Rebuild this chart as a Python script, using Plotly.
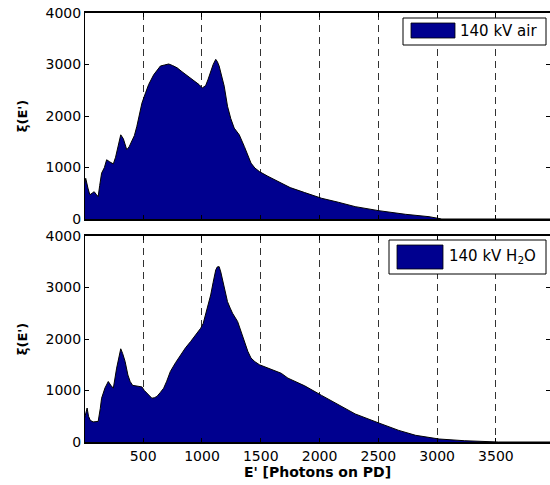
import plotly.graph_objects as go

# ---------------- data ----------------
E_air = [0, 11, 30, 46, 65, 83, 100, 117, 130, 146, 170, 189, 215, 246, 265, 289, 309, 331,
         360, 380, 403, 425, 446, 489, 520, 546, 589, 620, 646, 680, 717, 750, 789, 830, 874,
         910, 946, 975, 1003, 1031, 1050, 1074, 1095, 1117, 1130, 1146, 1170, 1189, 1217,
         1245, 1274, 1317, 1360, 1417, 1450, 1489, 1560, 1620, 1674, 1750, 1874, 2017, 2160,
         2303, 2503, 2731, 2931, 3017, 3040, 3960]
xi_air = [660, 790, 600, 470, 500, 530, 480, 435, 650, 890, 1000, 1150, 1110, 1070, 1200, 1410,
          1635, 1560, 1345, 1400, 1500, 1620, 1800, 2250, 2450, 2610, 2800, 2900, 2970, 2990,
          3010, 2980, 2935, 2860, 2785, 2730, 2675, 2610, 2545, 2590, 2700, 2870, 3000, 3100,
          3060, 2970, 2780, 2580, 2190, 1950, 1765, 1635, 1410, 1085, 990, 920, 830, 760, 700,
          610, 513, 403, 325, 240, 162, 91, 45, 13, 0, 0]

E_h2o = [0, 12, 23, 35, 50, 74, 100, 117, 135, 146, 175, 203, 225, 246, 274, 295, 309, 325,
         346, 370, 389, 410, 431, 470, 489, 510, 531, 555, 574, 595, 617, 645, 674, 700, 731,
         775, 817, 860, 903, 945, 989, 1010, 1031, 1050, 1074, 1095, 1117, 1130, 1146, 1160,
         1174, 1195, 1217, 1240, 1260, 1303, 1330, 1360, 1390, 1417, 1450, 1489, 1560, 1620,
         1674, 1731, 1874, 2017, 2160, 2303, 2503, 2674, 2817, 3017, 3231, 3417, 3520, 3960]
xi_h2o = [450, 600, 660, 500, 420, 390, 390, 400, 650, 850, 1050, 1175, 1100, 1045, 1435, 1700,
          1810, 1720, 1565, 1300, 1175, 1100, 1090, 1080, 1070, 1000, 950, 880, 850, 860, 885,
          960, 1045, 1180, 1370, 1540, 1690, 1830, 1950, 2080, 2210, 2300, 2470, 2640, 2855,
          3100, 3340, 3400, 3405, 3300, 3145, 2930, 2725, 2600, 2500, 2340, 2150, 1950, 1760,
          1630, 1560, 1500, 1435, 1380, 1335, 1240, 1090, 905, 725, 545, 370, 225, 130, 58, 25,
          6, 0, 0]

x_ticks = [500, 1000, 1500, 2000, 2500, 3000, 3500]
x_tick_labels = ["500", "1000", "1500", "2000", "2500", "3000", "3500"]
y_ticks = [0, 1000, 2000, 3000, 4000]
y_tick_labels = ["0", "1000", "2000", "3000", "4000"]
legend_labels = ["140 kV air", "140 kV H<sub>2</sub>O"]

# ---------------- styling ----------------
W, H = 550, 485
ML, MR, MT, MB = 85, 0, 13, 43
FILL = "rgb(0,0,143)"
FONT = "DejaVu Sans"
PW = W - ML - MR
PH = H - MT - MB


def px(xp):
    return (xp - ML) / PW


def py(yp):
    return (H - MB - yp) / PH


fig = go.Figure()
fig.add_trace(go.Scatter(x=E_air, y=xi_air, mode="lines", fill="tozeroy", fillcolor=FILL,
                         line=dict(color="black", width=1), name=legend_labels[0],
                         showlegend=False, xaxis="x", yaxis="y"))
fig.add_trace(go.Scatter(x=E_h2o, y=xi_h2o, mode="lines", fill="tozeroy", fillcolor=FILL,
                         line=dict(color="black", width=1), name=legend_labels[1],
                         showlegend=False, xaxis="x2", yaxis="y2"))

xcommon = dict(range=[5, 3960], tickvals=x_ticks, ticktext=x_tick_labels, ticks="inside",
               ticklen=4, tickcolor="black", showline=True, linecolor="black", linewidth=1.5,
               mirror="ticks", showgrid=True, gridcolor="rgb(50,50,50)", griddash="7px,5px",
               gridwidth=1, zeroline=False, tickfont=dict(family=FONT, size=14, color="black"))
ycommon = dict(range=[0, 4000], tickvals=y_ticks, ticktext=y_tick_labels, ticks="inside",
               ticklen=4, tickcolor="black", showline=True, linecolor="black", linewidth=1,
               mirror="ticks", showgrid=False, zeroline=False,
               tickfont=dict(family=FONT, size=14, color="black"))

ytitle = dict(text="<b>ξ(E')</b>", font=dict(family=FONT, size=13, color="black"), standoff=15)

fig.update_layout(
    width=W, height=H,
    margin=dict(l=ML, r=MR, t=MT, b=MB),
    paper_bgcolor="white", plot_bgcolor="white",
    xaxis=dict(domain=[0, 1], anchor="y", showticklabels=False, **xcommon),
    yaxis=dict(domain=[py(219), 1], anchor="x", title=ytitle, **ycommon),
    xaxis2=dict(domain=[0, 1], anchor="y2", showticklabels=True,
                title=dict(text="<b>E' [Photons on PD]</b>",
                           font=dict(family=FONT, size=14, color="black"), standoff=0),
                **xcommon),
    yaxis2=dict(domain=[0, py(236)], anchor="x2", title=ytitle, **ycommon),
    showlegend=False,
)

# manual legends (box + swatch + label)
boxes = [
    dict(box=(403, 18, 546, 45), sw=(411, 23, 455, 38), tx=(458, 31), label=legend_labels[0]),
    dict(box=(389, 240, 546, 274), sw=(397, 245, 443, 269), tx=(447, 256), label=legend_labels[1]),
]
shapes = []
annotations = []
for b in boxes:
    x0, y0, x1, y1 = b["box"]
    shapes.append(dict(type="rect", xref="paper", yref="paper", x0=px(x0), x1=px(x1),
                       y0=py(y1), y1=py(y0), line=dict(color="black", width=1),
                       fillcolor="white", layer="above"))
    x0, y0, x1, y1 = b["sw"]
    shapes.append(dict(type="rect", xref="paper", yref="paper", x0=px(x0), x1=px(x1),
                       y0=py(y1), y1=py(y0), line=dict(color="black", width=0.8),
                       fillcolor=FILL, layer="above"))
    annotations.append(dict(xref="paper", yref="paper", x=px(b["tx"][0]), y=py(b["tx"][1]),
                            xanchor="left", yanchor="middle", showarrow=False,
                            text=b["label"], font=dict(family=FONT, size=15, color="black")))

fig.update_layout(shapes=shapes, annotations=annotations)

fig.write_html("out.html", config={"displayModeBar": False},
               post_script="document.body.style.margin='0px';")
